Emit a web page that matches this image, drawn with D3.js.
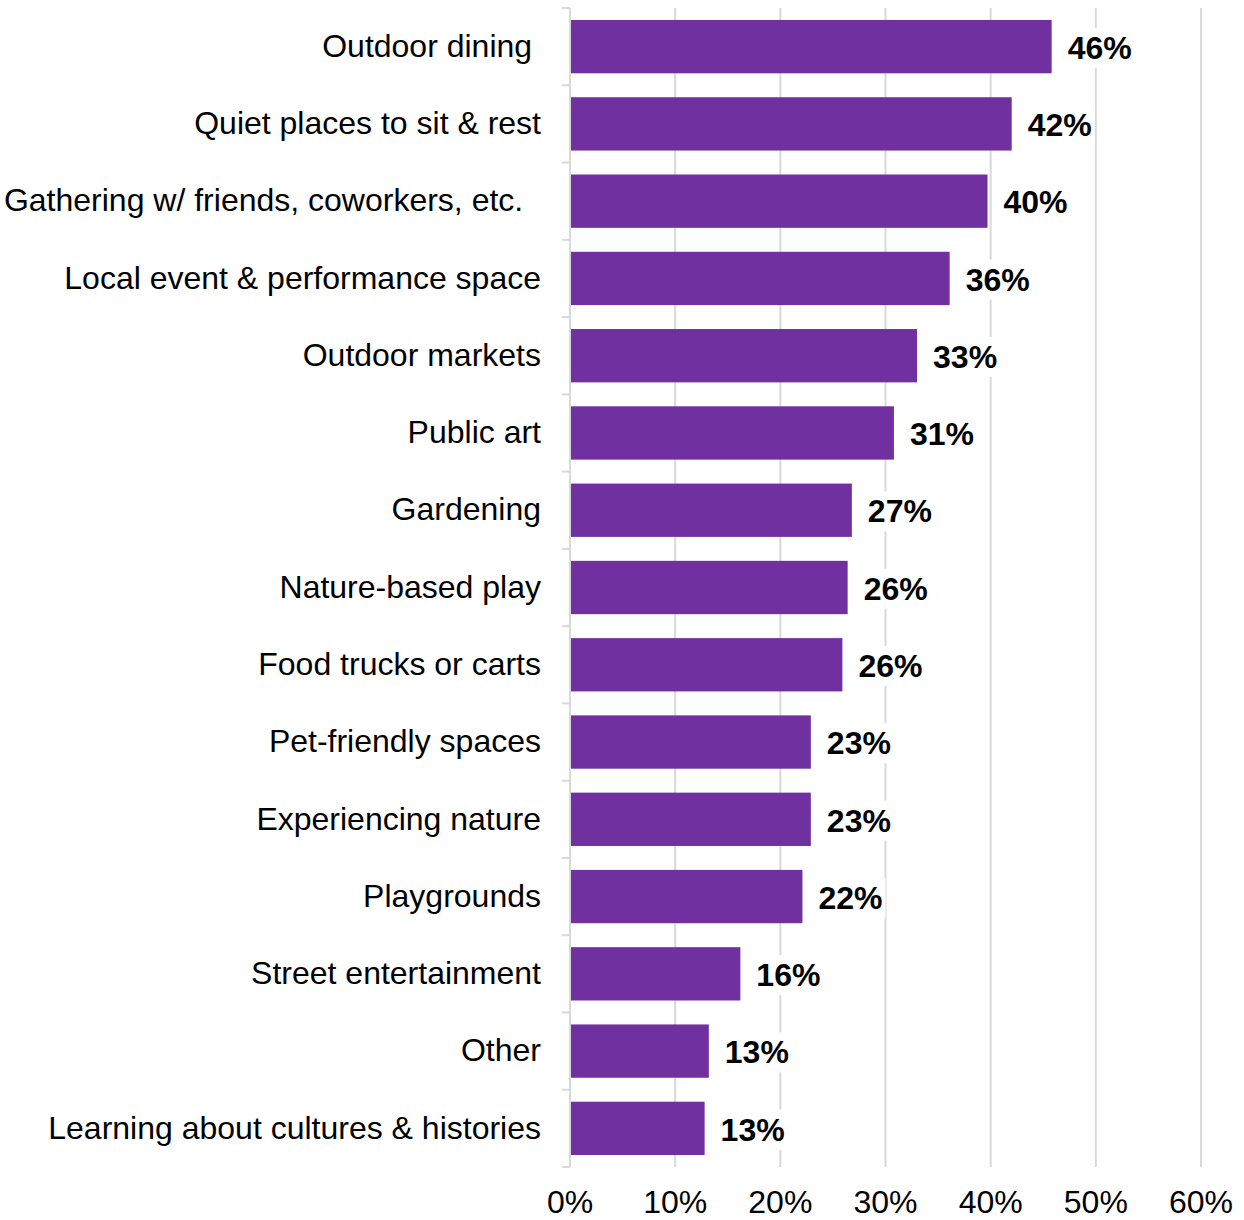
<!DOCTYPE html>
<html>
<head>
<meta charset="utf-8">
<script src="https://cdn.jsdelivr.net/npm/d3@7"></script>
<style>
  html, body { margin: 0; padding: 0; background: #fff; }
  svg { display: block; }
  text { font-family: "Liberation Sans", Arial, sans-serif; white-space: pre; }
</style>
</head>
<body>
<script>
const categories = [
  "Outdoor dining ",
  "Quiet places to sit & rest",
  "Gathering w/ friends, coworkers, etc.  ",
  "Local event & performance space",
  "Outdoor markets",
  "Public art",
  "Gardening",
  "Nature-based play",
  "Food trucks or carts",
  "Pet-friendly spaces",
  "Experiencing nature",
  "Playgrounds",
  "Street entertainment",
  "Other",
  "Learning about cultures & histories"
];
const values = [45.8, 42.0, 39.7, 36.1, 33.0, 30.8, 26.8, 26.4, 25.9, 22.9, 22.9, 22.1, 16.2, 13.2, 12.8];
const valueLabels = ["46%", "42%", "40%", "36%", "33%", "31%", "27%", "26%", "26%", "23%", "23%", "22%", "16%", "13%", "13%"];
const tickValues = [0, 10, 20, 30, 40, 50, 60];
const tickLabels = ["0%", "10%", "20%", "30%", "40%", "50%", "60%"];

const W = 1244, H = 1220;
const svg = d3.select("body").append("svg").attr("width", W).attr("height", H);

const x = d3.scaleLinear().domain([0, 60]).range([570, 1201]);
const y = d3.scaleBand().domain(categories).range([8, 1167]).paddingInner(0.31).paddingOuter(0.155);

const gridColor = "#d9d9d9";

// gridlines
svg.append("g").selectAll("line").data(tickValues.filter(v => v > 0)).join("line")
  .attr("x1", d => x(d)).attr("x2", d => x(d))
  .attr("y1", 8).attr("y2", 1167)
  .attr("stroke", gridColor).attr("stroke-width", 2);

// bars
svg.append("g").selectAll("rect").data(values).join("rect")
  .attr("x", x(0))
  .attr("y", (d, i) => y(categories[i]))
  .attr("width", d => x(d) - x(0))
  .attr("height", y.bandwidth())
  .attr("fill", "#7030a0");

// y axis line + band boundary ticks
const yAxisG = svg.append("g");
yAxisG.append("line")
  .attr("x1", x(0)).attr("x2", x(0)).attr("y1", 8).attr("y2", 1167)
  .attr("stroke", gridColor).attr("stroke-width", 2);
const boundaries = categories.map(c => y(c) - y.step() * y.paddingInner() / 2);
boundaries.push(1167);
yAxisG.selectAll("line.tk").data(boundaries).join("line")
  .attr("class", "tk")
  .attr("x1", x(0) - 8).attr("x2", x(0))
  .attr("y1", d => d).attr("y2", d => d)
  .attr("stroke", gridColor).attr("stroke-width", 2);

// category labels
svg.append("g").selectAll("text").data(categories).join("text")
  .attr("x", 541)
  .attr("y", d => y(d) + y.bandwidth() / 2 - 1)
  .attr("dy", "0.35em")
  .attr("text-anchor", "end")
  .attr("font-size", 32)
  .attr("fill", "#000")
  .text(d => d);

// value labels with white background
const lg = svg.append("g").selectAll("g").data(values).join("g");
lg.each(function(d, i) {
  const g = d3.select(this);
  const tx = x(d) + 16;
  const ty = y(categories[i]) + y.bandwidth() / 2 + 1;
  const t = g.append("text")
    .attr("x", tx).attr("y", ty).attr("dy", "0.35em")
    .attr("font-size", 32).attr("font-weight", "bold").attr("fill", "#000")
    .text(valueLabels[i]);
  const bb = t.node().getBBox();
  g.insert("rect", "text")
    .attr("x", bb.x - 3).attr("y", bb.y - 2)
    .attr("width", bb.width + 6).attr("height", bb.height + 4)
    .attr("fill", "#fff");
});

// x tick labels
svg.append("g").selectAll("text").data(tickValues).join("text")
  .attr("x", d => x(d))
  .attr("y", 1213)
  .attr("text-anchor", "middle")
  .attr("font-size", 32)
  .attr("fill", "#000")
  .text((d, i) => tickLabels[i]);
</script>
</body>
</html>
